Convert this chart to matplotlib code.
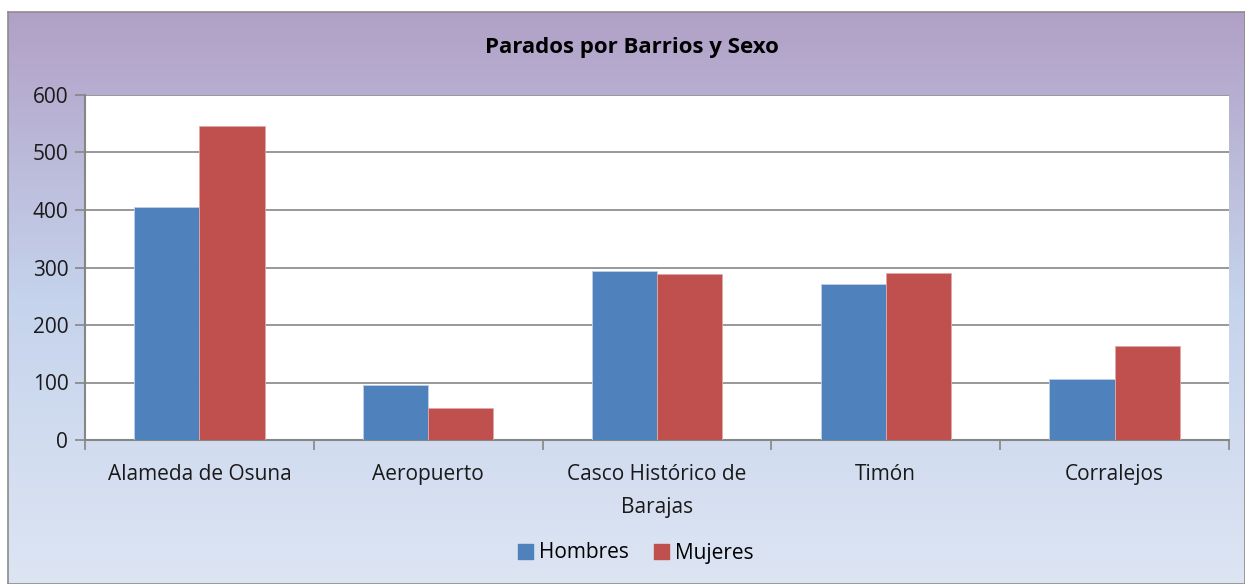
import numpy as np
import matplotlib.pyplot as plt
from matplotlib.colors import LinearSegmentedColormap
from matplotlib.patches import Rectangle

barrios = ['Alameda de Osuna', 'Aeropuerto', 'Casco Histórico de\nBarajas', 'Timón', 'Corralejos']
hombres = [406, 95, 294, 271, 106]
mujeres = [546, 55, 288, 291, 163]
series = ['Hombres', 'Mujeres']
colores = ['#4F81BD', '#C0504D']

plt.rcParams['font.family'] = ['Open Sans', 'DejaVu Sans']

W, H = 1245, 584
fig = plt.figure(figsize=(W / 100, H / 100), dpi=100)
fig.patch.set_facecolor('white')

# fondo degradado del marco del gráfico
bg = fig.add_axes([8 / W, 0, 1 - 8 / W, 1 - 12 / H])
cmap = LinearSegmentedColormap.from_list('fondo', ['#B1A0C6', '#C5D3EC', '#DDE5F3'])
grad = np.linspace(0, 1, 256).reshape(-1, 1)
bg.imshow(grad, aspect='auto', cmap=cmap, extent=[0, 1, 0, 1], origin='upper')
bg.set_xlim(0, 1)
bg.set_ylim(0, 1)
bg.set_xticks([])
bg.set_yticks([])
for s in bg.spines.values():
    s.set_color('#8C8C8C')
    s.set_linewidth(1.2)
bg.set_zorder(0)

# área de trazado
x0, x1, ytop, ybot = 85, 1229, 95, 440
ax = fig.add_axes([x0 / W, 1 - ybot / H, (x1 - x0) / W, (ybot - ytop) / H])
ax.set_facecolor('white')
ax.set_zorder(1)

x = np.arange(len(barrios))
bw = 0.285
ax.bar(x - bw / 2, hombres, bw, color=colores[0], label=series[0], zorder=3,
       edgecolor='#BFD0E6', linewidth=0.6)
ax.bar(x + bw / 2, mujeres, bw, color=colores[1], label=series[1], zorder=3,
       edgecolor='#E0A9A8', linewidth=0.6)

ax.set_xlim(-0.5, len(barrios) - 0.5)
ax.set_ylim(0, 600)
ax.set_yticks(range(0, 601, 100))
ax.yaxis.grid(True, color='#868686', linewidth=1.2, zorder=0)
ax.set_axisbelow(True)

ax.set_xticks(x)
ax.set_xticklabels(barrios, fontsize=15, color='#1A1A1A', linespacing=1.75)
ax.tick_params(axis='x', length=0, pad=17)
ax.set_xticks(np.arange(-0.5, len(barrios), 1), minor=True)
ax.tick_params(axis='x', which='minor', length=7, width=1.2, color='#868686', direction='out')
ax.tick_params(axis='y', length=7, width=1.2, color='#868686', labelsize=15,
               labelcolor='#1A1A1A', pad=5)

for side in ['top', 'right']:
    ax.spines[side].set_visible(False)
for side in ['left', 'bottom']:
    ax.spines[side].set_color('#868686')
    ax.spines[side].set_linewidth(1.5)

fig.text(632 / W, 1 - 48 / H, 'Parados por Barrios y Sexo', ha='center', va='center',
         fontsize=16, fontweight='bold', color='black')

handles = [Rectangle((0, 0), 1, 1, color=c) for c in colores]
fig.legend(handles, series, loc='center', bbox_to_anchor=(636 / W, 1 - 553 / H), ncol=2,
           frameon=False, fontsize=15, handlelength=0.7, handleheight=0.7,
           handletextpad=0.3, columnspacing=1.2)

fig.savefig('out.png', dpi=100)
